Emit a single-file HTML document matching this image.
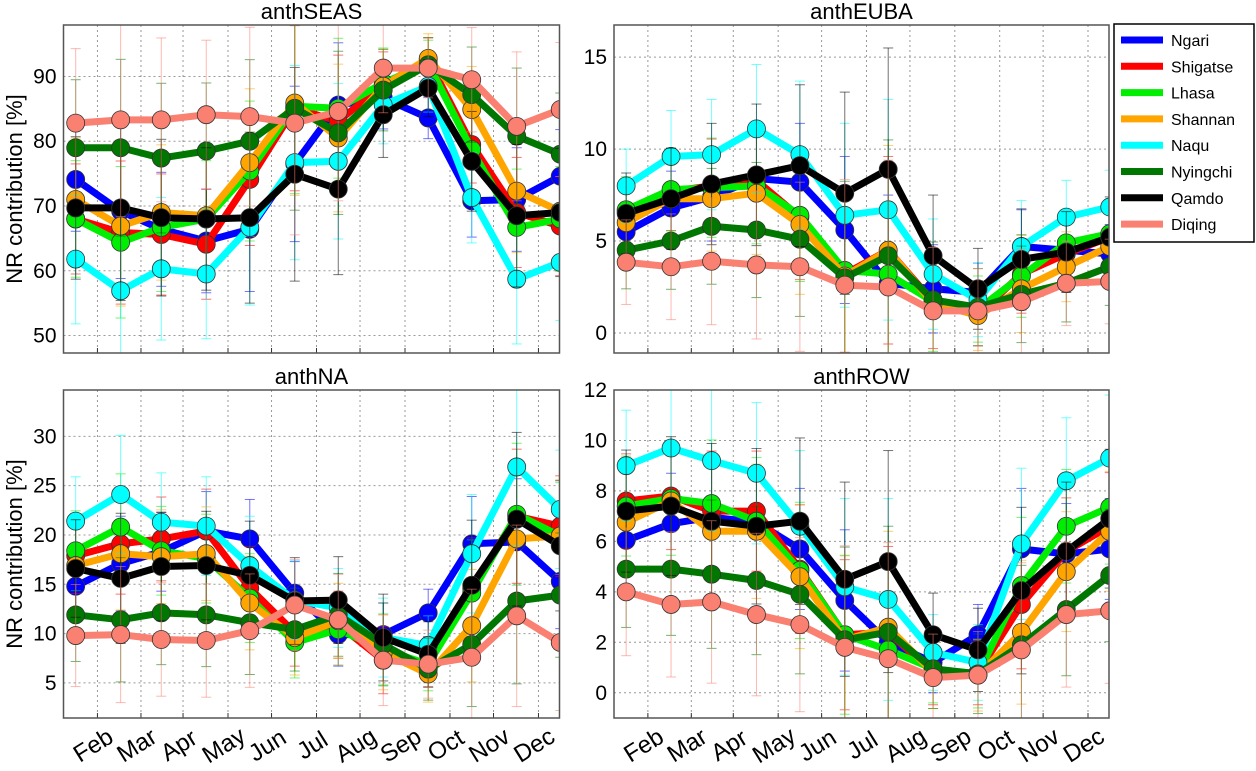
<!DOCTYPE html>
<html><head><meta charset="utf-8"><style>
body{margin:0;background:#fff;}
svg{display:block;font-family:"Liberation Sans","DejaVu Sans",sans-serif;}
</style></head><body>
<svg id="chart" width="1256" height="771" viewBox="0 0 1256 771" xmlns="http://www.w3.org/2000/svg"></svg>
<script>
const monthDays=[0,31,59,90,120,151,181,212,243,273,304,334];
const tickDays=[15,45,74,105,135,166,196,227,258,288,319];
const tickLabels=["Feb","Mar","Apr","May","Jun","Jul","Aug","Sep","Oct","Nov","Dec"];
const seriesNames=["Ngari","Shigatse","Lhasa","Shannan","Naqu","Nyingchi","Qamdo","Diqing"];
const seriesColors=["#0000ff","#ff0000","#00ee00","#ffa500","#00ffff","#007700","#000000","#fa8072"];

const seasNgari=[74.1,69.2,66.4,64.6,66.4,76.5,85.6,86.7,83.6,70.8,71,74.6];
const seasShigatse=[68,65.9,65.6,64.1,74.1,85.1,83.1,88.7,92.6,79.5,69,66.9];
const seasLhasa=[68,64.4,66.7,68,75.4,85.4,85.1,89,92,78.7,66.7,68];
const seasShannan=[71,66.9,69,68.5,76.7,85.9,80.5,88.5,92.8,84.9,72.3,69.2];
const seasNaqu=[61.8,56.9,60.3,59.5,66.7,76.7,76.9,85.6,88.5,71.3,58.7,61.3];
const seasNyingchi=[79,79,77.4,78.5,80,85.1,81.3,87.9,91.8,87.2,80.8,78];
const seasQamdo=[69.7,69.7,68.2,68,68.2,74.9,72.6,84.1,88.2,76.9,68.5,69];
const seasDiqing=[82.8,83.3,83.3,84.1,83.8,82.8,84.6,91.3,91.3,89.5,82.3,84.9];
const seasErr=[10,13,11,10,12,15,12,6,4,7,10,9];

const eubaNgari=[5.5,6.8,7.4,8.4,8.2,5.6,2.7,2.4,2.2,4.7,4.5,4.3];
const eubaShigatse=[6.6,7.7,8.0,8.3,6.3,3.2,4.5,1.7,1.0,3.2,4.3,5.2];
const eubaLhasa=[6.7,7.8,7.9,8.0,6.4,3.4,3.2,1.7,1.3,3.1,4.9,5.4];
const eubaShannan=[6.0,7.3,7.3,7.6,5.9,3.1,4.5,1.6,0.95,2.4,3.6,4.7];
const eubaNaqu=[8.0,9.6,9.7,11.1,9.7,6.4,6.7,3.2,1.8,4.7,6.3,6.85];
const eubaNyingchi=[4.5,5.0,5.8,5.6,5.1,3.0,4.2,1.8,1.4,2.1,2.7,3.6];
const eubaQamdo=[6.5,7.3,8.1,8.6,9.1,7.6,8.9,4.2,2.4,4.0,4.4,5.2];
const eubaDiqing=[3.85,3.6,3.9,3.7,3.6,2.6,2.5,1.2,1.2,1.7,2.7,2.8];
const eubaErr=[2,2.5,3,3.5,4,5,6,3,2,2.5,2,2];

const naNgari=[14.8,17.1,18.3,20.4,19.6,14.1,9.9,9.9,12.1,19.1,19.3,15.3];
const naShigatse=[17.9,19.1,19.6,20.4,14.6,10.1,10.9,7.3,7.1,14.6,21.9,20.9];
const naLhasa=[18.4,20.8,18.4,17.6,13.6,9.1,10.4,8.4,6.9,14.1,22.1,19.9];
const naShannan=[16.9,18.1,17.8,18.1,13.1,9.6,11.3,8.1,5.9,10.8,19.6,19.9];
const naNaqu=[21.4,24.1,21.3,20.9,16.9,13.4,12.6,9.6,8.8,18.1,26.9,22.6];
const naNyingchi=[11.9,11.4,12.1,11.9,11.1,10.4,11.9,8.9,6.4,8.9,13.3,13.9];
const naQamdo=[16.6,15.6,16.8,16.9,15.9,13.3,13.4,9.6,7.9,14.9,21.6,18.9];
const naDiqing=[9.8,9.9,9.4,9.3,10.3,12.9,11.4,7.3,6.9,7.6,11.8,9.1];
const naErr=[4.5,6,5,5,5,4,4,4,3,6,8,6];

const rowNgari=[6.04,6.7,6.96,6.76,5.7,3.66,2.0,1.2,2.3,5.7,5.5,5.7];
const rowShigatse=[7.6,7.8,7.2,7.2,4.9,2.3,2.4,0.8,0.8,3.5,5.6,6.6];
const rowLhasa=[7.4,7.7,7.5,6.8,4.85,2.3,1.7,0.95,0.75,4.25,6.6,7.35];
const rowShannan=[6.76,7.6,6.4,6.4,4.6,2.1,2.6,0.8,0.7,2.4,4.8,6.4];
const rowNaqu=[9.0,9.7,9.2,8.7,6.6,4.2,3.7,1.6,1.2,5.9,8.4,9.3];
const rowNyingchi=[4.9,4.9,4.7,4.45,3.9,2.1,2.4,0.95,0.75,1.9,3.3,4.65];
const rowQamdo=[7.2,7.4,6.8,6.6,6.8,4.5,5.2,2.3,1.7,4.05,5.6,6.9];
const rowDiqing=[4.0,3.5,3.6,3.1,2.7,1.8,1.35,0.6,0.7,1.7,3.1,3.25];
const rowErr=[2.2,2.5,2.8,2.8,3,3.5,4,1.5,1.5,3,2.5,2.5];

const panels=[
 {title:"anthSEAS",name:"anthseas",L:63.5,T:25,W:496,H:328,ymin:47.3,ymax:97.95,ticks:[50,60,70,80,90],ylab:true,xlab:false,
  data:[seasNgari,seasShigatse,seasLhasa,seasShannan,seasNaqu,seasNyingchi,seasQamdo,seasDiqing],err:seasErr},
 {title:"anthEUBA",name:"antheuba",L:614,T:25,W:495,H:328,ymin:-1.09,ymax:16.75,ticks:[0,5,10,15],ylab:false,xlab:false,
  data:[eubaNgari,eubaShigatse,eubaLhasa,eubaShannan,eubaNaqu,eubaNyingchi,eubaQamdo,eubaDiqing],err:eubaErr},
 {title:"anthNA",name:"anthna",L:63.5,T:390,W:496,H:328,ymin:1.44,ymax:34.7,ticks:[5,10,15,20,25,30],ylab:true,xlab:true,
  data:[naNgari,naShigatse,naLhasa,naShannan,naNaqu,naNyingchi,naQamdo,naDiqing],err:naErr},
 {title:"anthROW",name:"anthrow",L:614,T:390,W:495,H:328,ymin:-1.0,ymax:12,ticks:[0,2,4,6,8,10,12],ylab:false,xlab:true,
  data:[rowNgari,rowShigatse,rowLhasa,rowShannan,rowNaqu,rowNyingchi,rowQamdo,rowDiqing],err:rowErr}
];

const NS="http://www.w3.org/2000/svg";
const svg=document.getElementById('chart');
function mk(tag,attrs,parent){const e=document.createElementNS(NS,tag);for(const k in attrs)e.setAttribute(k,attrs[k]);(parent||svg).appendChild(e);return e;}
const defs=mk('defs',{});

panels.forEach((p,pi)=>{
  const xs=d=>p.L+(d+8.4)/341.9*p.W;
  const ys=v=>p.T+(p.ymax-v)/(p.ymax-p.ymin)*p.H;
  const g=mk('g',{});
  
  
  const cp=mk('clipPath',{id:'cp'+pi},defs);
  mk('rect',{x:p.L,y:p.T,width:p.W,height:p.H},cp);
  tickDays.forEach((d,i)=>{
    const l=mk('line',{x1:xs(d),x2:xs(d),y1:p.T,y2:p.T+p.H,stroke:'#999','stroke-width':1,'stroke-dasharray':'2,3'},g);
    
    
    mk('line',{x1:xs(d),x2:xs(d),y1:p.T+p.H,y2:p.T+p.H-5,stroke:'#333','stroke-width':1},g);
    if(p.xlab){
      const t=mk('text',{x:0,y:0,'font-size':24,'text-anchor':'middle',fill:'#000',transform:`translate(${xs(d)},${p.T+p.H+34}) rotate(-32)`},g);
      t.textContent=tickLabels[i];
      
      
    }
  });
  p.ticks.forEach(v=>{
    const l=mk('line',{x1:p.L,x2:p.L+p.W,y1:ys(v),y2:ys(v),stroke:'#999','stroke-width':1,'stroke-dasharray':'2,3'},g);
    
    
    const t=mk('text',{x:p.L-7,y:ys(v)+7,'font-size':21,'text-anchor':'end',fill:'#000'},g);
    t.textContent=v;
    
    
  });
  const title=mk('text',{x:p.L+p.W/2,y:p.T-6,'font-size':22,'text-anchor':'middle',fill:'#000'},g);
  title.textContent=p.title;
  
  
  if(p.ylab){
    const yl=mk('text',{x:0,y:0,'font-size':22,'text-anchor':'middle',fill:'#000',transform:`translate(22,${p.T+p.H/2}) rotate(-90)`},g);
    yl.textContent='NR contribution [%]';
    
    
  }
  const dg=mk('g',{'clip-path':`url(#cp${pi})`},g);
  p.data.forEach((arr,si)=>{
    const c=seriesColors[si];
    const sg=mk('g',{},dg);
    
    
    arr.forEach((v,i)=>{
      const x=xs(monthDays[i]),e=p.err[i]*(0.8+0.05*si);
      mk('line',{x1:x,x2:x,y1:ys(v-e),y2:ys(v+e),stroke:c,'stroke-width':1,opacity:0.55},sg);
      mk('line',{x1:x-5,x2:x+5,y1:ys(v-e),y2:ys(v-e),stroke:c,'stroke-width':1,opacity:0.55},sg);
      mk('line',{x1:x-5,x2:x+5,y1:ys(v+e),y2:ys(v+e),stroke:c,'stroke-width':1,opacity:0.55},sg);
    });
    const pts=arr.map((v,i)=>xs(monthDays[i]).toFixed(1)+','+ys(v).toFixed(1)).join(' ');
    const pl=mk('polyline',{points:pts,fill:'none',stroke:c,'stroke-width':7,'stroke-linejoin':'round'},sg);
    
    
    arr.forEach((v,i)=>{
      const m=mk('circle',{cx:xs(monthDays[i]),cy:ys(v),r:9,fill:c,stroke:'#333','stroke-width':0.8},sg);
      
      
    });
  });
  const fr=mk('rect',{x:p.L,y:p.T,width:p.W,height:p.H,fill:'none',stroke:'#555','stroke-width':1.5},g);
  
  
});

const lg=mk('g',{});


mk('rect',{x:1114,y:24,width:140,height:218,fill:'#fff',stroke:'#000','stroke-width':1.5},lg);
seriesNames.forEach((n,i)=>{
  const y=40+i*26.3;
  const e=mk('g',{},lg);
  
  
  mk('line',{x1:1121,x2:1163,y1:y,y2:y,stroke:seriesColors[i],'stroke-width':7},e);
  const t=mk('text',{x:1171,y:y+6,'font-size':16,fill:'#000'},e);
  t.textContent=n;
});
</script>
</body></html>
